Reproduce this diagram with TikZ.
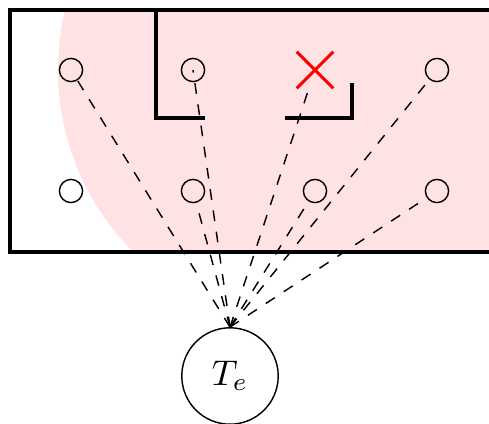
\documentclass[tikz,border=0pt]{standalone}
\usetikzlibrary{shapes.misc}
\definecolor{pinkfill}{RGB}{255,226,227}
\begin{document}
\begin{tikzpicture}[x=0.28pt,y=-0.28pt,
  sensor/.style={circle,draw,line width=0.4pt,minimum size=6.5pt,inner sep=0pt},
  failed/.style={cross out,draw=red,line width=0.85pt,minimum size=9.4pt,inner sep=0pt},
  wall/.style={line width=0.85pt},
  border/.style={line width=0.85pt},
  tenode/.style={circle,draw,line width=0.4pt,minimum size=27pt,inner sep=0pt},
  link/.style={dashed,line width=0.4pt}]
\useasboundingbox (0,0) rectangle (489,423);
\begin{scope}
  \clip (10,10) rectangle (520,252);
  \fill[pinkfill] (315,70) circle[radius=257];
\end{scope}
\draw[border] (10,10) rectangle (520,252);
\draw[wall] (156,10) -- (156,118) -- (205,118);
\draw[wall] (285,118) -- (352,118) -- (352,83);
\node[sensor] (a1) at (71,70) {};
\node[sensor] (a2) at (193,70) {};
\node[failed] (a3) at (315,70) {};
\node[sensor] (a4) at (437,70) {};
\node[sensor] (b1) at (71,191) {};
\node[sensor] (b2) at (193,191) {};
\node[sensor] (b3) at (315,191) {};
\node[sensor] (b4) at (437,191) {};
\node[tenode] (te) at (230,376) {$T_e$};
\draw[link] (te.north) -- (a1);
\draw[link] (te.north) -- (a2.center);
\draw[link] (te.north) -- (a3);
\draw[link] (te.north) -- (a4);
\draw[link] (te.north) -- (b2);
\draw[link] (te.north) -- (b3);
\draw[link] (te.north) -- (b4);
\end{tikzpicture}
\end{document}
